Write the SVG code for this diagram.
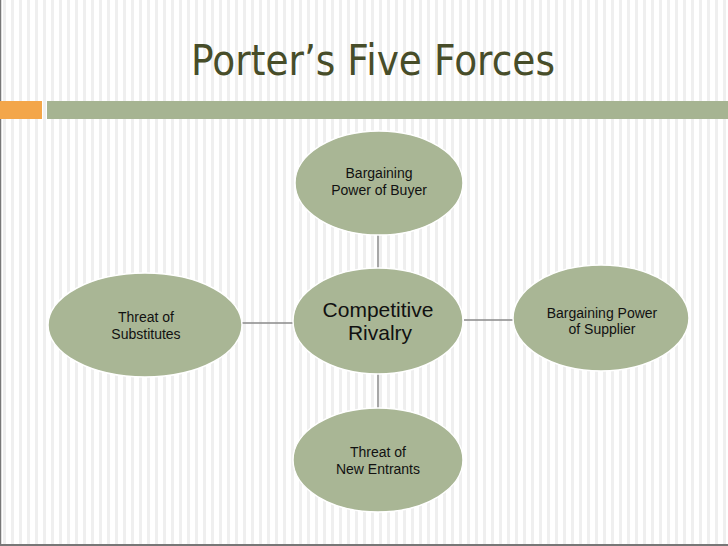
<svg xmlns="http://www.w3.org/2000/svg" width="728" height="546" viewBox="0 0 728 546">
<defs>
<pattern id="stripes" x="0" y="0" width="8" height="8" patternUnits="userSpaceOnUse">
<rect width="8" height="8" fill="#ffffff"/>
<rect x="3" width="3" height="8" fill="#efefef"/>
</pattern>
<style>
.node{fill:#a9b695;stroke:#ffffff;stroke-width:1.5}
.lbl{font-family:"Liberation Sans",Arial,sans-serif;font-size:14px;fill:#111111;text-anchor:middle}
.big{font-size:21px}
.conn{stroke:#8a8a8a;stroke-width:1.5;fill:none}
</style>
</defs>
<rect width="728" height="546" fill="url(#stripes)"/>
<line x1="0.5" y1="0" x2="0.5" y2="546" stroke="#777" stroke-width="1.5"/>
<line x1="0" y1="545" x2="728" y2="545" stroke="#777" stroke-width="2"/>
<rect x="0" y="101" width="42" height="18" fill="#f3a64a"/>
<rect x="47" y="101" width="681" height="18" fill="#a6b492"/>
<text x="191" y="75" font-family="'DejaVu Sans',sans-serif" font-size="42" fill="#474d29" textLength="364" lengthAdjust="spacingAndGlyphs">Porter’s Five Forces</text>
<g id="connectors">
<line class="conn" x1="378" y1="235" x2="378" y2="268"/>
<line class="conn" x1="378" y1="374" x2="378" y2="408"/>
<line class="conn" x1="242" y1="323" x2="293" y2="323"/>
<line class="conn" x1="464" y1="320" x2="513" y2="320"/>
</g>
<g id="buyer">
<ellipse class="node" cx="379" cy="183" rx="84" ry="52"/>
<text class="lbl" x="379" y="178">Bargaining</text>
<text class="lbl" x="379" y="195">Power of Buyer</text>
</g>
<g id="rivalry">
<ellipse class="node" cx="378" cy="321" rx="85" ry="53"/>
<text class="lbl big" x="378" y="317">Competitive</text>
<text class="lbl big" x="380" y="340">Rivalry</text>
</g>
<g id="substitutes">
<ellipse class="node" cx="145" cy="325" rx="97" ry="52"/>
<text class="lbl" x="146" y="322">Threat of</text>
<text class="lbl" x="146" y="339">Substitutes</text>
</g>
<g id="supplier">
<ellipse class="node" cx="601" cy="318" rx="88" ry="53"/>
<text class="lbl" x="602" y="318">Bargaining Power</text>
<text class="lbl" x="602" y="334">of Supplier</text>
</g>
<g id="entrants">
<ellipse class="node" cx="378" cy="460" rx="85" ry="52"/>
<text class="lbl" x="378" y="457">Threat of</text>
<text class="lbl" x="378" y="474">New Entrants</text>
</g>
</svg>
